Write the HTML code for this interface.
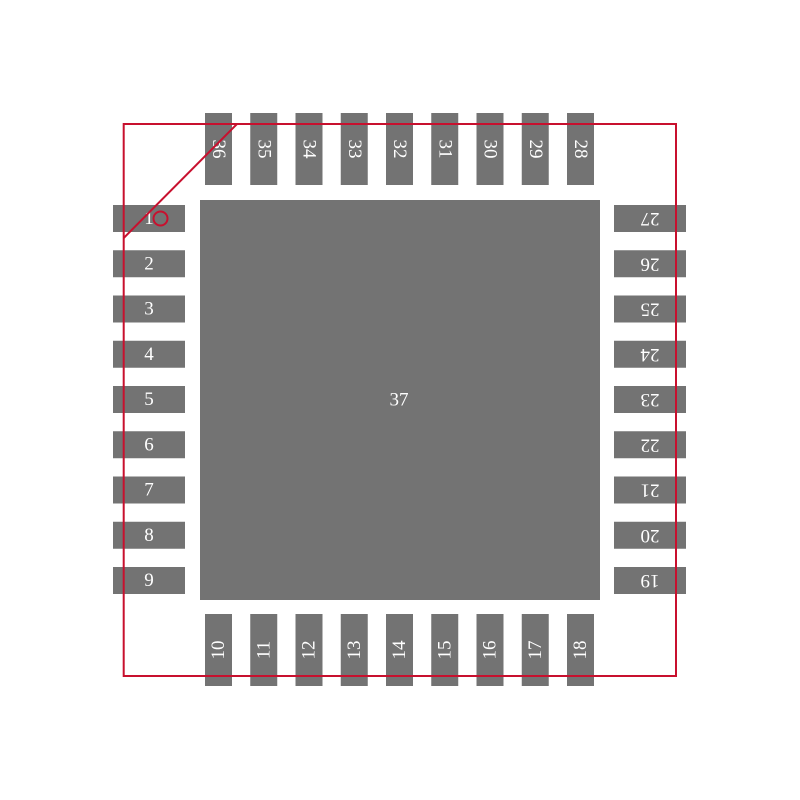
<!DOCTYPE html>
<html><head><meta charset="utf-8"><style>html,body{margin:0;padding:0;background:#fff}svg{display:block}text{font-family:"Liberation Serif",serif;font-size:19px;fill:#fff;text-anchor:middle;dominant-baseline:central}</style></head><body>
<svg width="800" height="800" viewBox="0 0 800 800">
<g fill="#737373">
<rect x="200" y="200" width="400" height="400"/>
<!-- left -->
<rect x="113" y="205" width="72" height="27"/><rect x="113" y="250.25" width="72" height="27"/><rect x="113" y="295.5" width="72" height="27"/><rect x="113" y="340.75" width="72" height="27"/><rect x="113" y="386" width="72" height="27"/><rect x="113" y="431.25" width="72" height="27"/><rect x="113" y="476.5" width="72" height="27"/><rect x="113" y="521.75" width="72" height="27"/><rect x="113" y="567" width="72" height="27"/>
<!-- right -->
<rect x="614" y="205" width="72" height="27"/><rect x="614" y="250.25" width="72" height="27"/><rect x="614" y="295.5" width="72" height="27"/><rect x="614" y="340.75" width="72" height="27"/><rect x="614" y="386" width="72" height="27"/><rect x="614" y="431.25" width="72" height="27"/><rect x="614" y="476.5" width="72" height="27"/><rect x="614" y="521.75" width="72" height="27"/><rect x="614" y="567" width="72" height="27"/>
<!-- top -->
<rect y="113" x="205" height="72" width="27"/><rect y="113" x="250.25" height="72" width="27"/><rect y="113" x="295.5" height="72" width="27"/><rect y="113" x="340.75" height="72" width="27"/><rect y="113" x="386" height="72" width="27"/><rect y="113" x="431.25" height="72" width="27"/><rect y="113" x="476.5" height="72" width="27"/><rect y="113" x="521.75" height="72" width="27"/><rect y="113" x="567" height="72" width="27"/>
<!-- bottom -->
<rect y="614" x="205" height="72" width="27"/><rect y="614" x="250.25" height="72" width="27"/><rect y="614" x="295.5" height="72" width="27"/><rect y="614" x="340.75" height="72" width="27"/><rect y="614" x="386" height="72" width="27"/><rect y="614" x="431.25" height="72" width="27"/><rect y="614" x="476.5" height="72" width="27"/><rect y="614" x="521.75" height="72" width="27"/><rect y="614" x="567" height="72" width="27"/>
</g>
<text x="399" y="400">37</text>
<text x="149" y="218.5">1</text><text x="149" y="263.75">2</text><text x="149" y="309">3</text><text x="149" y="354.25">4</text><text x="149" y="399.5">5</text><text x="149" y="444.75">6</text><text x="149" y="490">7</text><text x="149" y="535.25">8</text><text x="149" y="580.5">9</text>
<text transform="translate(650,580.5) rotate(180)">19</text><text transform="translate(650,535.25) rotate(180)">20</text><text transform="translate(650,490) rotate(180)">21</text><text transform="translate(650,444.75) rotate(180)">22</text><text transform="translate(650,399.5) rotate(180)">23</text><text transform="translate(650,354.25) rotate(180)">24</text><text transform="translate(650,309) rotate(180)">25</text><text transform="translate(650,263.75) rotate(180)">26</text><text transform="translate(650,218.5) rotate(180)">27</text>
<text transform="translate(580.5,149) rotate(90)">28</text><text transform="translate(535.25,149) rotate(90)">29</text><text transform="translate(490,149) rotate(90)">30</text><text transform="translate(444.75,149) rotate(90)">31</text><text transform="translate(399.5,149) rotate(90)">32</text><text transform="translate(354.25,149) rotate(90)">33</text><text transform="translate(309,149) rotate(90)">34</text><text transform="translate(263.75,149) rotate(90)">35</text><text transform="translate(218.5,149) rotate(90)">36</text>
<text transform="translate(218.5,650) rotate(-90)">10</text><text transform="translate(263.75,650) rotate(-90)">11</text><text transform="translate(309,650) rotate(-90)">12</text><text transform="translate(354.25,650) rotate(-90)">13</text><text transform="translate(399.5,650) rotate(-90)">14</text><text transform="translate(444.75,650) rotate(-90)">15</text><text transform="translate(490,650) rotate(-90)">16</text><text transform="translate(535.25,650) rotate(-90)">17</text><text transform="translate(580.5,650) rotate(-90)">18</text>
<g stroke="#c8102e" stroke-width="2" fill="none">
<rect x="123.7" y="124" width="552.3" height="552"/>
<line x1="123.7" y1="238" x2="237" y2="124"/>
<circle cx="160.5" cy="218.5" r="7"/>
</g>
</svg>
</body></html>
